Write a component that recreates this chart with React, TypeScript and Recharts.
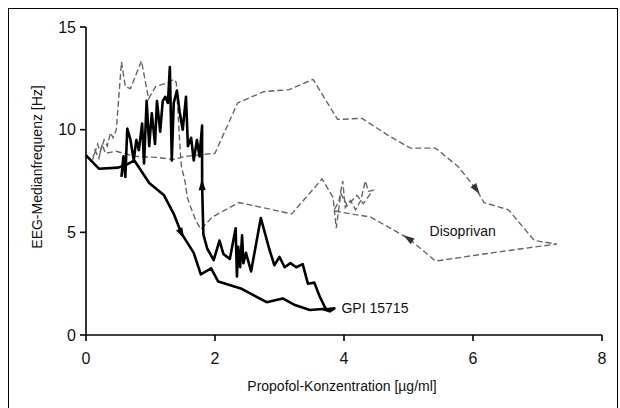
import React from 'react';
import { LineChart, Line, XAxis, YAxis, ReferenceDot } from 'recharts';

// GPI 15715: concentration (µg/ml) and EEG median frequency (Hz), in time order
const gpiConc = [
  0, 0.2, 0.5, 0.63, 0.75, 0.98, 1.21, 1.36, 1.48, 1.67, 1.78, 1.94, 2.05, 2.4, 2.53, 2.8,
  3.05, 3.24, 3.47, 3.67, 3.78, 3.85,
  3.72, 3.62, 3.54, 3.44, 3.36, 3.26, 3.17, 3.08, 3.0, 2.92, 2.84, 2.71, 2.56, 2.48, 2.44,
  2.42, 2.39, 2.36, 2.34, 2.32, 2.23, 2.13, 2.07, 1.98, 1.88, 1.82, 1.8, 1.8,
  1.76, 1.72, 1.67, 1.63, 1.58, 1.55, 1.5, 1.45, 1.41, 1.36, 1.33, 1.3, 1.27, 1.23, 1.19,
  1.15, 1.1, 1.07, 1.02, 0.98, 0.94, 0.9, 0.87, 0.82, 0.78, 0.74, 0.69, 0.64, 0.61, 0.58, 0.55,
];
const gpiFreq = [
  8.75, 8.1, 8.15, 8.3, 8.5, 7.4, 6.8, 5.9, 4.95, 4.0, 2.95, 3.25, 2.6, 2.27, 2.05, 1.6,
  1.78, 1.46, 1.22, 1.27, 1.15, 1.3,
  1.25, 1.9, 2.55, 2.5, 3.45, 3.3, 3.5, 3.3, 3.8, 3.4, 4.2, 5.7, 3.1, 4.0, 3.5,
  4.85, 3.3, 4.3, 2.85, 5.2, 3.7, 3.95, 4.6, 3.65, 4.2, 4.9, 7.3, 10.2,
  8.7, 9.5, 8.5, 9.6, 9.2, 11.6, 10.0, 10.9, 11.9, 11.3, 8.5, 13.05, 11.3, 11.6, 11.4,
  9.9, 11.4, 9.3, 10.8, 9.2, 11.4, 8.35, 10.3, 9.0, 9.5, 8.5, 9.5, 10.05, 7.7, 8.7, 7.7,
];
const gpiArrows = [8, 48];

// Disoprivan
const disoConc = [
  0, 0.1, 0.14, 0.2, 0.25, 0.3, 0.47, 0.75, 1.1, 1.35, 1.55, 2.0, 2.35, 2.5, 2.75, 3.15,
  3.52, 3.9, 4.28, 4.67, 5.03, 5.42, 5.77, 6.05, 6.17, 6.55, 6.95, 7.3, 6.4, 5.42, 5.0,
  4.41, 4.1, 3.84, 3.92, 3.98, 4.02, 4.1, 4.18, 4.26, 4.33, 4.38, 4.45, 4.3, 4.2, 4.05,
  3.95, 3.88, 3.83, 3.66, 3.19, 2.37, 1.96, 1.78, 1.7, 1.62, 1.57, 1.54, 1.48, 1.46, 1.44,
  1.4, 1.36, 1.28, 1.08, 0.97, 0.86, 0.69, 0.61, 0.55, 0.47, 0.42, 0.38, 0.33, 0.28, 0.22,
  0.18, 0.12,
];
const disoFreq = [
  8.75, 8.5, 9.0, 8.6, 9.3, 8.85, 8.95, 8.7, 8.65, 8.55, 8.7, 8.85, 11.3, 11.5, 11.85, 11.95,
  12.45, 10.5, 10.55, 9.75, 9.1, 9.1, 8.2, 7.1, 6.45, 6.1, 4.6, 4.43, 4.05, 3.6, 4.7,
  5.75, 5.9, 6.05, 6.5, 7.5, 6.2, 6.55, 6.1, 6.55, 7.5, 7.0, 7.05, 6.4, 6.8, 6.3,
  6.9, 5.2, 6.7, 7.6, 5.9, 6.45, 5.75, 5.15, 5.6, 6.25, 6.7, 7.4, 8.2, 9.0, 10.1,
  12.3, 12.45, 12.3, 12.1, 11.5, 13.35, 12.0, 12.1, 13.3, 10.0, 9.6, 9.85, 9.2, 9.5, 8.9,
  9.3, 8.7,
];
const disoArrows = [23, 30];

const xTicks = [0, 2, 4, 6, 8];
const yTicks = [0, 5, 10, 15];

const CHART_W = 608;
const CHART_H = 399;
const MARGIN = { top: 18, right: 15, bottom: 0, left: 0 };
const Y_AXIS_W = 77;
const X_AXIS_H = 73;
const PX_PER_X = (CHART_W - MARGIN.right - Y_AXIS_W) / 8;
const PX_PER_Y = (CHART_H - MARGIN.top - X_AXIS_H) / 15;

const FONT = '"Liberation Sans", Arial, sans-serif';
const INK = '#111';

type Row = { conc: number; freq: number };

const toRows = (xs: number[], ys: number[]): Row[] => xs.map((x, i) => ({ conc: x, freq: ys[i] }));

const gpiRows = toRows(gpiConc, gpiFreq);
const disoRows = toRows(disoConc, disoFreq);

// small arrowhead pointing along the direction of travel at selected points
const arrowDot = (rows: Row[], arrows: number[], color: string) => (props: any) => {
  const { cx, cy, index } = props;
  if (!arrows.includes(index) || cx == null || cy == null) return <g key={`d-${index}`} />;
  const prev = rows[index - 1];
  const next = rows[index + 1];
  const dx = (next.conc - prev.conc) * PX_PER_X;
  const dy = -(next.freq - prev.freq) * PX_PER_Y;
  const angle = (Math.atan2(dy, dx) * 180) / Math.PI;
  return (
    <path
      key={`d-${index}`}
      d="M6,0 L-5,-3.5 L-5,3.5 Z"
      fill={color}
      stroke="none"
      transform={`translate(${cx},${cy}) rotate(${angle})`}
    />
  );
};

const XTitle = ({ viewBox }: any) => (
  <text
    x={viewBox.x + viewBox.width / 2 - 2}
    y={viewBox.y + 52}
    textAnchor="middle"
    dominantBaseline="middle"
    fontFamily={FONT}
    fontSize={14}
    fill={INK}
  >
    Propofol-Konzentration [µg/ml]
  </text>
);

const YTitle = ({ viewBox }: any) => {
  const x = 29;
  const y = viewBox.y + viewBox.height / 2 - 14;
  return (
    <text
      x={x}
      y={y}
      transform={`rotate(-90, ${x}, ${y})`}
      textAnchor="middle"
      dominantBaseline="middle"
      fontFamily={FONT}
      fontSize={14}
      fill={INK}
    >
      EEG-Medianfrequenz [Hz]
    </text>
  );
};

export default function App() {
  const tick = { fill: INK, fontSize: 16, fontFamily: FONT };
  const axisLine = { stroke: '#000', strokeWidth: 1.6 };

  return (
    <div
      style={{
        position: 'absolute',
        left: 8,
        top: 8,
        width: CHART_W,
        height: CHART_H,
        borderTop: '1px solid #000',
        borderLeft: '1px solid #000',
        borderRight: '1px solid #000',
        background: '#fff',
      }}
    >
      <LineChart width={CHART_W} height={CHART_H} margin={MARGIN}>
        <XAxis
          dataKey="conc"
          type="number"
          domain={[0, 8]}
          ticks={xTicks}
          interval={0}
          height={X_AXIS_H}
          tick={tick}
          tickSize={6}
          tickMargin={12}
          axisLine={axisLine}
          tickLine={axisLine}
          label={<XTitle />}
        />
        <YAxis
          type="number"
          domain={[0, 15]}
          ticks={yTicks}
          interval={0}
          width={Y_AXIS_W}
          tick={tick}
          tickSize={6}
          tickMargin={4}
          axisLine={axisLine}
          tickLine={axisLine}
          label={<YTitle />}
        />
        <Line
          data={disoRows}
          dataKey="freq"
          type="linear"
          stroke="#666"
          strokeWidth={1.4}
          strokeDasharray="6 3"
          dot={arrowDot(disoRows, disoArrows, '#333')}
          activeDot={false}
          isAnimationActive={false}
        />
        <Line
          data={gpiRows}
          dataKey="freq"
          type="linear"
          stroke="#000"
          strokeWidth={2.6}
          strokeLinejoin="round"
          dot={arrowDot(gpiRows, gpiArrows, '#000')}
          activeDot={false}
          isAnimationActive={false}
        />
        <ReferenceDot
          x={4.48}
          y={1.32}
          r={0}
          fill="none"
          stroke="none"
          label={{ value: 'GPI 15715', position: 'center', fill: INK, fontSize: 14, fontFamily: FONT }}
        />
        <ReferenceDot
          x={5.84}
          y={5.07}
          r={0}
          fill="none"
          stroke="none"
          label={{ value: 'Disoprivan', position: 'center', fill: INK, fontSize: 14, fontFamily: FONT }}
        />
      </LineChart>
    </div>
  );
}
